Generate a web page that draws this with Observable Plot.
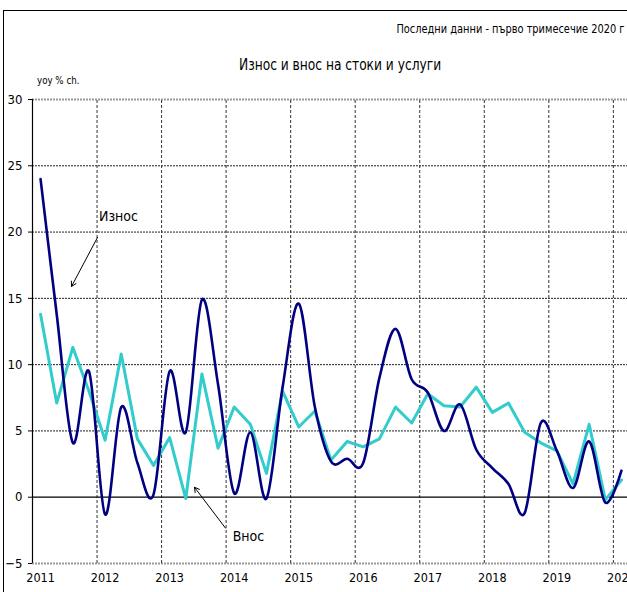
<!DOCTYPE html>
<html>
<head>
<meta charset="utf-8">
<script src="https://cdn.jsdelivr.net/npm/d3@7"></script>
<script src="https://cdn.jsdelivr.net/npm/@observablehq/plot@0.6"></script>
<style>
  html, body { margin: 0; padding: 0; overflow: hidden; background: #fff; }
  #wrap { position: relative; width: 627px; height: 592px; overflow: hidden; font-family: 'Liberation Sans Narrow', 'DejaVu Sans Condensed', 'Arial Narrow', sans-serif; }
  #frame { position: absolute; left: 3px; top: 10px; width: 700px; height: 700px; border-top: 1px solid #000; border-left: 1px solid #000; }
  .t { position: absolute; white-space: nowrap; color: #000; }
  #sub { right: 2px; top: 21px; font-size: 13px; transform: scaleX(0.84); transform-origin: right center; }
  #title { left: 239px; top: 55px; font-size: 16px; transform: scaleX(0.85); transform-origin: left center; }
  #unit { left: 37px; top: 74px; font-size: 10.5px; transform: scaleX(0.92); transform-origin: left center; }
  #chart { position: absolute; left: 0; top: 0; }
</style>
</head>
<body>
<div id="wrap">
  <div id="frame"></div>
  <div id="chart"></div>
  <div class="t" id="sub">Последни данни - първо тримесечие 2020 г</div>
  <div class="t" id="title">Износ и внос на стоки и услуги</div>
  <div class="t" id="unit">yoy % ch.</div>
</div>
<script>
const years = [2011, 2012, 2013, 2014, 2015, 2016, 2017, 2018, 2019, 2020];
const iznos = [24.0, 13.8, 4.1, 9.5, -1.3, 6.8, 2.6, 0.2, 9.5, 4.9, 14.9, 8.5, 0.3, 4.9, -0.1, 8.3, 14.6, 6.8, 2.7, 2.9, 2.6, 9.0, 12.7, 8.9, 7.9, 5.0, 7.0, 3.6, 2.2, 1.0, -1.2, 5.6, 3.5, 0.7, 4.2, -0.4, 2.0];
const vnos = [13.8, 7.1, 11.3, 8.0, 4.3, 10.8, 4.4, 2.4, 4.5, -0.1, 9.3, 3.7, 6.8, 5.5, 1.8, 8.0, 5.3, 6.5, 2.8, 4.2, 3.8, 4.4, 6.8, 5.6, 7.8, 6.9, 6.8, 8.3, 6.4, 7.1, 4.9, 4.1, 3.5, 1.0, 5.5, -0.2, 1.3];
const yTicks = [-5, 0, 5, 10, 15, 20, 25, 30];
const labelIznos = "Износ";
const labelVnos = "Внос";

const iznosData = iznos.map((v, i) => ({i, v}));
const vnosData = vnos.map((v, i) => ({i, v}));
const yearStarts = years.map((y, k) => k * 4);
const yearBounds = years.slice(1).map((y, k) => (k + 1) * 4 - 0.5);

const font = "'Liberation Sans Narrow', 'DejaVu Sans Condensed', 'Arial Narrow', sans-serif";

const chart = Plot.plot({
  width: 627,
  height: 592,
  style: {fontFamily: font, fontSize: "13px", background: "transparent", overflow: "hidden"},
  x: {domain: [-0.5, 36.5], range: [32, 629]},
  y: {domain: [-5, 30], range: [563, 99]},
  marks: [
    Plot.ruleY(yTicks.filter(t => t !== 0 && t !== 30 && t !== -5), {stroke: "#222", strokeWidth: 1, strokeDasharray: "2,1", x1: -0.5, x2: 36.5}),
    Plot.ruleY([30, -5], {stroke: "#999", strokeWidth: 2, strokeDasharray: "2,1", x1: -0.5, x2: 36.5}),
    Plot.ruleX(yearBounds, {stroke: "#333", strokeWidth: 1, strokeDasharray: "3,2", y1: -5, y2: 30}),
    Plot.ruleY([0], {stroke: "#000", strokeWidth: 1.2, x1: -0.5, x2: 36.5}),
    Plot.ruleX([-0.5], {stroke: "#000", strokeWidth: 1.2, y1: -5, y2: 30}),
    Plot.axisY({ticks: yTicks, tickSize: 4, tickPadding: 6, fontSize: 13, x: -0.5}),
    Plot.axisX({ticks: yearStarts, tickFormat: d => String(years[d / 4]), tickSize: 0, tickPadding: 11, fontSize: 12.5}),
    Plot.line(vnosData, {x: "i", y: "v", stroke: "#33CCCC", strokeWidth: 3}),
    Plot.line(iznosData, {x: "i", y: "v", stroke: "#000080", strokeWidth: 2.6, curve: "cardinal"}),
    Plot.arrow([{x1: 3.53, y1: 19.6, x2: 1.92, y2: 15.9}], {x1: "x1", y1: "y1", x2: "x2", y2: "y2", stroke: "#000", strokeWidth: 1, headLength: 8}),
    Plot.arrow([{x1: 11.46, y1: -2.33, x2: 9.54, y2: 0.75}], {x1: "x1", y1: "y1", x2: "x2", y2: "y2", stroke: "#000", strokeWidth: 1, headLength: 8}),
    Plot.text([{x: 4.83, y: 21.2, t: labelIznos}], {x: "x", y: "y", text: "t", fontSize: 14, fill: "#000"}),
    Plot.text([{x: 12.88, y: -3.0, t: labelVnos}], {x: "x", y: "y", text: "t", fontSize: 14, fill: "#000"})
  ]
});
document.getElementById("chart").appendChild(chart);
</script>
</body>
</html>
